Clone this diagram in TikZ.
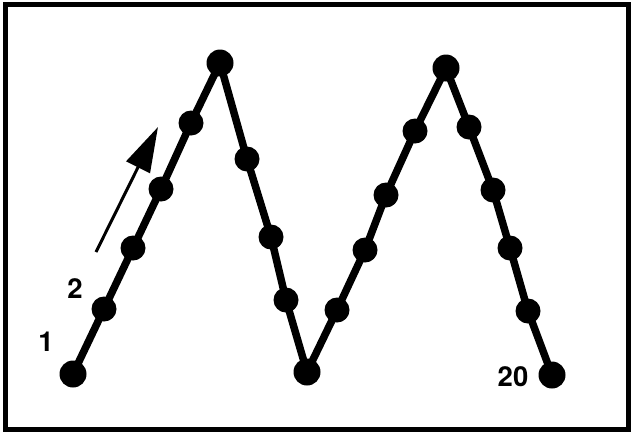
\documentclass[tikz,border=0pt]{standalone}
\usepackage{fontspec}
\setmainfont{TeX Gyre Heros}
\usetikzlibrary{arrows.meta}
\begin{document}
\begin{tikzpicture}[x=1pt,y=-1pt,
  bigdot/.style={circle,fill=black,inner sep=0pt,minimum size=27pt},
  dot/.style={circle,fill=black,inner sep=0pt,minimum size=25pt},
  zig/.style={line width=7.5pt,line join=round,line cap=round},
  lbl/.style={font=\bfseries\fontsize{27.5}{27.5}\selectfont,inner sep=0pt}]
\useasboundingbox (0,0) rectangle (631,432);
\draw[line width=5pt] (5.5,4.5) rectangle (628.5,429.5);
\node[bigdot] (p1) at (73,374) {};
\node[dot] (p2) at (104,309) {};
\node[dot] (p3) at (133,248) {};
\node[dot] (p4) at (161,189) {};
\node[dot] (p5) at (191,123) {};
\node[bigdot] (p6) at (220,63) {};
\node[dot] (p7) at (247,159) {};
\node[dot] (p8) at (271,237) {};
\node[dot] (p9) at (286,300) {};
\node[bigdot] (p10) at (307,372) {};
\node[dot] (p11) at (337,310) {};
\node[dot] (p12) at (365,250) {};
\node[dot] (p13) at (386,195) {};
\node[dot] (p14) at (415,131) {};
\node[bigdot] (p15) at (446,68) {};
\node[dot] (p16) at (469,127) {};
\node[dot] (p17) at (493,190) {};
\node[dot] (p18) at (510,248) {};
\node[dot] (p19) at (528,311) {};
\node[bigdot] (p20) at (552,375) {};
\draw[zig] (p1.center) -- (p2.center) -- (p3.center) -- (p4.center) -- (p5.center) -- (p6.center)
  -- (p7.center) -- (p8.center) -- (p9.center) -- (p10.center) -- (p11.center) -- (p12.center)
  -- (p13.center) -- (p14.center) -- (p15.center) -- (p16.center) -- (p17.center) -- (p18.center)
  -- (p19.center) -- (p20.center);
\coordinate (a0) at (96,252);
\coordinate (a1) at (158,127);
\draw[line width=3pt,-{Triangle[length=45pt,width=26pt]}] (a0) -- (a1);
\node[lbl] (l1) at (46,342) {1};
\node[lbl] (l2) at (75,289) {2};
\node[lbl] (l20) at (513,377) {20};
\end{tikzpicture}
\end{document}
